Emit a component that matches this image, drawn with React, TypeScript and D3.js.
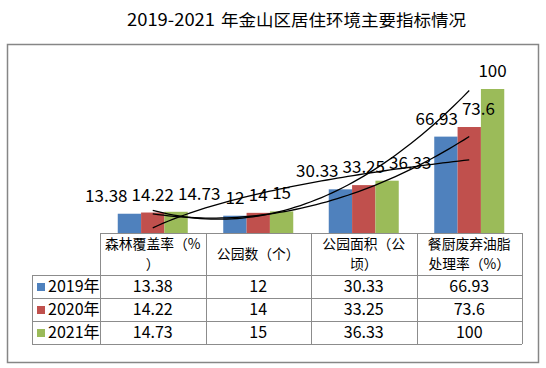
import React, { useMemo } from "react";
import * as d3 from "d3";

const W = 546;
const H = 368;

const titleYears = "2019-2021";
const titleText = "年金山区居住环境主要指标情况";
const categories = ["森林覆盖率（%）", "公园数（个）", "公园面积（公顷）", "餐厨废弃油脂处理率（%）"];
const categoryLines = [["森林覆盖率（%", "）"], ["公园数（个）"], ["公园面积（公", "顷）"], ["餐厨废弃油脂", "处理率（%）"]];
const seriesNames = ["2019年", "2020年", "2021年"];
const values2019 = [13.38, 12, 30.33, 66.93];
const values2020 = [14.22, 14, 33.25, 73.6];
const values2021 = [14.73, 15, 36.33, 100];
const seriesValues = [values2019, values2020, values2021];
const seriesColors = ["#4f81bd", "#c0504d", "#9bbb59"];
const trendlines = [
  { series: 0, type: "log" },
  { series: 0, type: "poly2" },
  { series: 2, type: "poly2" },
];

const FONT = '"Noto Sans CJK SC", "Noto Sans", sans-serif';
const LABEL_FS = 17;

function fitLog(ys: number[]) {
  const xs = ys.map((_, i) => Math.log(i + 1));
  const mx = d3.mean(xs)!;
  const my = d3.mean(ys)!;
  let sxy = 0, sxx = 0;
  xs.forEach((x, i) => { sxy += (x - mx) * (ys[i] - my); sxx += (x - mx) * (x - mx); });
  const b = sxy / sxx;
  const a = my - b * mx;
  return (x: number) => a + b * Math.log(x);
}

function fitPoly2(ys: number[]) {
  const xs = ys.map((_, i) => i + 1);
  const S = (p: number) => d3.sum(xs, (x) => Math.pow(x, p));
  const T = (p: number) => d3.sum(xs, (x, i) => Math.pow(x, p) * ys[i]);
  const A = [
    [S(0), S(1), S(2), T(0)],
    [S(1), S(2), S(3), T(1)],
    [S(2), S(3), S(4), T(2)],
  ];
  for (let c = 0; c < 3; c++) {
    for (let r = c + 1; r < 3; r++) {
      const f = A[r][c] / A[c][c];
      for (let k = c; k < 4; k++) A[r][k] -= f * A[c][k];
    }
  }
  const coef = [0, 0, 0];
  for (let r = 2; r >= 0; r--) {
    let s = A[r][3];
    for (let k = r + 1; k < 3; k++) s -= A[r][k] * coef[k];
    coef[r] = s / A[r][r];
  }
  return (x: number) => coef[0] + coef[1] * x + coef[2] * x * x;
}

let ctx: CanvasRenderingContext2D | null = null;
function measure(text: string, fs: number) {
  if (!ctx) ctx = document.createElement("canvas").getContext("2d");
  if (!ctx) return text.length * fs * 0.5;
  ctx.font = `${fs}px ${FONT}`;
  return ctx.measureText(text).width;
}

export default function App() {
  const plotLeft = 100;
  const plotRight = 522;
  const baseY = 233;
  const x = d3.scaleBand<string>().domain(categories).range([plotLeft, plotRight]);
  const groupW = 70;
  const inner = d3.scaleBand<string>().domain(seriesNames).range([0, groupW]);
  const y = d3.scaleLinear().domain([0, 100]).range([baseY, baseY - 144]);
  const center = (c: string) => (x(c) as number) + x.bandwidth() / 2;
  const tx = d3.scaleLinear().domain([1, categories.length]).range([center(categories[0]), center(categories[categories.length - 1])]);

  const bars = categories.flatMap((c, ci) =>
    seriesNames.map((s, si) => {
      const v = seriesValues[si][ci];
      const bx = center(c) - groupW / 2 + (inner(s) as number);
      return { key: `${ci}-${si}`, x: bx, y: y(v), w: inner.bandwidth(), h: baseY - y(v), color: seriesColors[si], v };
    })
  );

  const labels = useMemo(() => {
    const out: { x: number; y: number; text: string; key: string }[] = [];
    categories.forEach((c, ci) => {
      const group = seriesNames.map((s, si) => {
        const v = seriesValues[si][ci];
        const text = String(v);
        const w = measure(text, LABEL_FS);
        return { x: center(c) - groupW / 2 + (inner(s) as number) + inner.bandwidth() / 2, y: y(v) - 12, w, text, key: `${ci}-${si}` };
      });
      for (let it = 0; it < 30; it++) {
        for (let i = 0; i < group.length - 1; i++) {
          const a = group[i], b = group[i + 1];
          if (Math.abs(a.y - b.y) > LABEL_FS * 0.8) continue;
          const need = (a.w + b.w) / 2 + 4;
          const d = b.x - a.x;
          if (d < need) {
            const push = (need - d) / 2;
            a.x -= push;
            b.x += push;
          }
        }
      }
      group.forEach((g) => out.push(g));
    });
    return out;
  }, []);

  const trendPaths = trendlines.map((tl, i) => {
    const f = tl.type === "log" ? fitLog(seriesValues[tl.series]) : fitPoly2(seriesValues[tl.series]);
    const ts = d3.range(1, categories.length + 0.0001, 0.05);
    const path = d3.line<number>().x((t) => tx(t)).y((t) => y(f(t)))(ts);
    return <path key={i} d={path || ""} fill="none" stroke="#000" strokeWidth={1.3} />;
  });

  const headerTop = baseY;
  const headerBottom = 275;
  const rowH = 23;
  const labelColLeft = 32;
  const rowTops = seriesNames.map((_, i) => headerBottom + i * rowH);
  const tableBottom = headerBottom + seriesNames.length * rowH;
  const colEdges = [...categories.map((c) => x(c) as number), plotRight];
  const gridColor = "#8c8c8c";
  const headerFs = 13.8;
  const headerLineH = 20.2;

  return (
    <svg width={W} height={H} style={{ position: "absolute", left: 0, top: 0 }} fontFamily={FONT}>
      <rect x={0} y={0} width={W} height={H} fill="#fff" />
      <text x={127} y={26} fontSize={17.5} fill="#000" textLength={88} lengthAdjust="spacingAndGlyphs">{titleYears}</text>
      <text x={221} y={26} fontSize={16.3} fill="#000" textLength={245} lengthAdjust="spacingAndGlyphs">{titleText}</text>
      <rect x={7.5} y={44.5} width={531} height={318} fill="#fff" stroke="#868686" strokeWidth={1.5} />

      {bars.map((b) => (
        <rect key={b.key} x={b.x} y={b.y} width={b.w} height={b.h} fill={b.color} />
      ))}
      {trendPaths}
      {labels.map((l) => (
        <text key={l.key} x={l.x} y={l.y} fontSize={LABEL_FS} textAnchor="middle" fill="#000">{l.text}</text>
      ))}

      <g stroke={gridColor} strokeWidth={1} shapeRendering="crispEdges">
        <line x1={plotLeft} x2={plotRight} y1={headerTop + 0.5} y2={headerTop + 0.5} />
        {[headerBottom, ...rowTops.slice(1), tableBottom].map((yy, i) => (
          <line key={i} x1={labelColLeft} x2={plotRight} y1={yy + 0.5} y2={yy + 0.5} />
        ))}
        <line x1={labelColLeft + 0.5} x2={labelColLeft + 0.5} y1={headerBottom} y2={tableBottom} />
        {colEdges.map((xx, i) => (
          <line key={i} x1={Math.round(xx) + 0.5} x2={Math.round(xx) + 0.5} y1={headerTop} y2={tableBottom} />
        ))}
      </g>
      {categories.map((c, ci) => {
        const lines = categoryLines[ci];
        const cx = center(c);
        const base = lines.length === 1 ? 259 : 249;
        return lines.map((t, li) => (
          <text key={`${ci}-${li}`} x={cx} y={base + li * headerLineH} fontSize={headerFs} textAnchor="middle" fill="#000">{t}</text>
        ));
      })}
      {seriesNames.map((s, si) => (
        <g key={s}>
          <rect x={37} y={rowTops[si] + 8} width={8} height={8} fill={seriesColors[si]} />
          <text x={48} y={rowTops[si] + 17} fontSize={16} fill="#000">{s}</text>
          {categories.map((c, ci) => (
            <text key={ci} x={center(c)} y={rowTops[si] + 17} fontSize={16} textAnchor="middle" fill="#000">{String(seriesValues[si][ci])}</text>
          ))}
        </g>
      ))}
    </svg>
  );
}
